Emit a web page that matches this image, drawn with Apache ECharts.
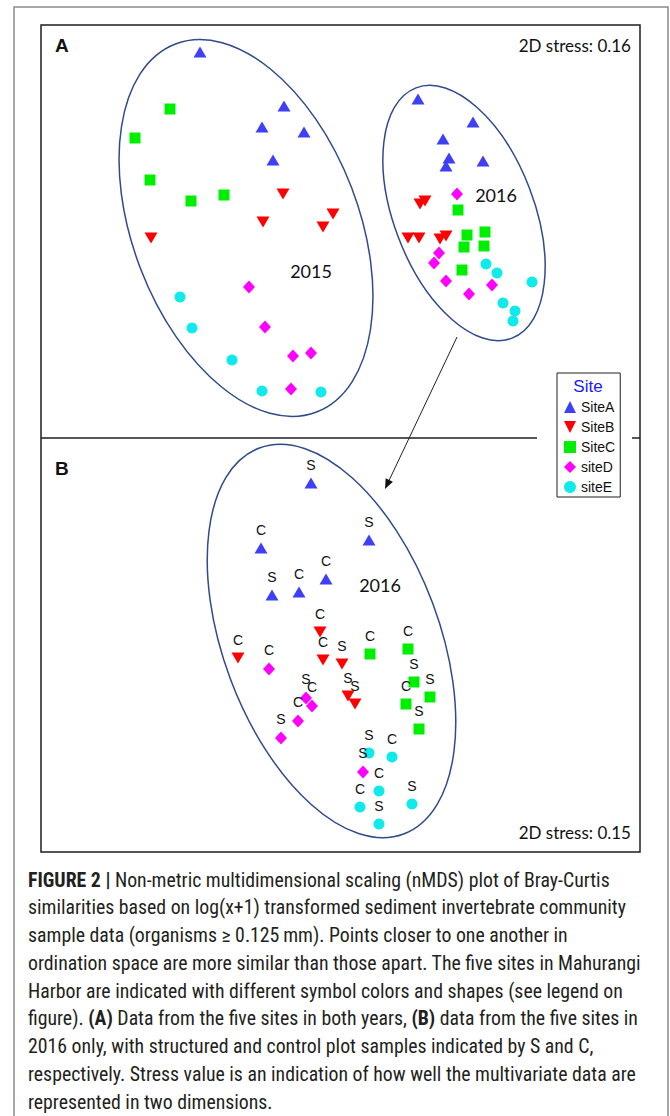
<!DOCTYPE html>
<html><head><meta charset="utf-8">
<script src="https://cdn.jsdelivr.net/npm/echarts/dist/echarts.min.js"></script>
<style>html,body{margin:0;padding:0;background:#fff}#c{width:670px;height:1116px}</style>
</head><body><div id="c"></div>
<script>
// ---------- DATA (nMDS coordinates) ----------
const siteNames = ['SiteA', 'SiteB', 'SiteC', 'siteD', 'siteE'];

// Panel A, 2015 samples
const a15SiteA = [[-1.40,1.795],[-0.56,1.255],[-0.78,1.045],[-0.36,0.995],[-0.67,0.715]];
const a15SiteB = [[-0.57,0.375],[-0.07,0.175],[-0.77,0.095],[-0.17,0.045],[-1.89,-0.065]];
const a15SiteC = [[-1.70,1.225],[-2.05,0.935],[-1.90,0.515],[-1.49,0.305],[-1.16,0.365]];
const a15SiteD = [[-0.91,-0.555],[-0.75,-0.955],[-0.47,-1.245],[-0.29,-1.215],[-0.49,-1.575]];
const a15SiteE = [[-1.60,-0.655],[-1.48,-0.965],[-1.08,-1.285],[-0.78,-1.595],[-0.19,-1.605]];

// Panel A, 2016 samples
const a16SiteA = [[0.78,1.325],[1.33,1.095],[1.03,0.925],[1.09,0.735],[1.06,0.655],[1.43,0.705]];
const a16SiteB = [[0.80,0.275],[0.85,0.305],[0.68,-0.065],[0.79,-0.065],[1.00,-0.075],[1.06,-0.045]];
const a16SiteC = [[1.18,0.215],[1.27,-0.035],[1.45,-0.005],[1.24,-0.155],[1.44,-0.145],[1.22,-0.385]];
const a16SiteD = [[1.17,0.375],[0.99,-0.215],[0.94,-0.315],[1.06,-0.495],[1.52,-0.535],[1.29,-0.625]];
const a16SiteE = [[1.46,-0.325],[1.57,-0.415],[1.92,-0.505],[1.63,-0.715],[1.75,-0.795],[1.73,-0.895]];

// Panel B, 2016 only, with S (structured) / C (control) labels
const bSiteA = [[-0.29,1.62],[-0.79,0.97],[0.29,1.05],[-0.14,0.66],[-0.68,0.50],[-0.41,0.53]];
const bSiteALabels = ['S','C','S','C','S','C'];
const bSiteB = [[-1.02,-0.13],[-0.20,0.13],[-0.17,-0.15],[0.02,-0.19],[0.08,-0.51],[0.15,-0.59]];
const bSiteBLabels = ['C','C','C','S','S','S'];
const bSiteC = [[0.30,-0.09],[0.68,-0.04],[0.74,-0.37],[0.90,-0.52],[0.66,-0.59],[0.79,-0.84]];
const bSiteCLabels = ['C','C','S','S','C','S'];
const bSiteD = [[-0.71,-0.24],[-0.34,-0.53],[-0.28,-0.61],[-0.42,-0.76],[-0.59,-0.93],[0.23,-1.27]];
const bSiteDLabels = ['C','S','C','C','S','S'];
const bSiteE = [[0.29,-1.08],[0.52,-1.12],[0.39,-1.46],[0.20,-1.62],[0.72,-1.59],[0.39,-1.79]];
const bSiteELabels = ['S','C','C','C','S','S'];

// Group ellipses: [centerX, centerY, radiusX, radiusY, rotationDeg]
const ellipseA2015 = [-0.94, 0.035, 1.13, 1.97, 21];
const ellipseA2016 = [1.24, 0.185, 0.70, 1.34, 21];
const ellipseB2016 = [-0.085, 0.04, 1.08, 2.06, 20.5];

const stressA = '2D stress: 0.16';
const stressB = '2D stress: 0.15';

const captionLines = [
  '{b|FIGURE 2 |} Non-metric multidimensional scaling (nMDS) plot of Bray-Curtis',
  'similarities based on log(x+1) transformed sediment invertebrate community',
  'sample data (organisms \u2265 0.125\u2009mm). Points closer to one another in',
  'ordination space are more similar than those apart. The five sites in Mahurangi',
  'Harbor are indicated with different symbol colors and shapes (see legend on',
  'figure). {b|(A)} Data from the five sites in both years, {b|(B)} data from the five sites in',
  '2016 only, with structured and control plot samples indicated by S and C,',
  'respectively. Stress value is an indication of how well the multivariate data are',
  'represented in two dimensions.'
];

// ---------- STYLE ----------
const siteColors = ['#3f3ff5', '#ff0000', '#00ee00', '#ff00ff', '#11eaea'];
const downTri = 'path://M0,0L10,0L5,10Z';
const siteSymbols = ['triangle', downTri, 'rect', 'diamond', 'circle'];
const siteSizes = [[13,11],[13,11],[11,11],[12,13],[11,11]];
const ellipseColor = '#2f4b8c';
const arial = '"Liberation Sans", Arial, sans-serif';
const calibriLike = 'Lato, "Open Sans", sans-serif';
const captionFont = '"Liberation Sans Narrow", "Roboto Condensed", "DejaVu Sans Condensed", sans-serif';

const chart = echarts.init(document.getElementById('c'), null, {renderer: 'svg'});

const panelA = [
  a15SiteA.concat(a16SiteA), a15SiteB.concat(a16SiteB), a15SiteC.concat(a16SiteC),
  a15SiteD.concat(a16SiteD), a15SiteE.concat(a16SiteE)
];
const panelB = [bSiteA, bSiteB, bSiteC, bSiteD, bSiteE];
const panelBLabels = [bSiteALabels, bSiteBLabels, bSiteCLabels, bSiteDLabels, bSiteELabels];

function ellipseSeries(data, xi, yi) {
  return {
    type: 'custom', xAxisIndex: xi, yAxisIndex: yi, silent: true, clip: false,
    data: data, z: 1,
    renderItem: function (params, api) {
      const c = api.coord([api.value(0), api.value(1)]);
      const s = api.size([api.value(2), api.value(3)]);
      return {
        type: 'ellipse', x: c[0], y: c[1], rotation: api.value(4) * Math.PI / 180,
        shape: {cx: 0, cy: 0, rx: s[0], ry: s[1]},
        style: {fill: 'none', stroke: ellipseColor, lineWidth: 1.5}
      };
    }
  };
}

const series = [
  ellipseSeries([ellipseA2015, ellipseA2016], 0, 0),
  ellipseSeries([ellipseB2016], 1, 1)
];
siteNames.forEach(function (name, i) {
  series.push({
    name: name, type: 'scatter', xAxisIndex: 0, yAxisIndex: 0, z: 3,
    symbol: siteSymbols[i], symbolSize: siteSizes[i],
    itemStyle: {color: siteColors[i], opacity: 1},
    emphasis: {disabled: true}, silent: true,
    data: panelA[i]
  });
});
siteNames.forEach(function (name, i) {
  series.push({
    name: name, type: 'scatter', xAxisIndex: 1, yAxisIndex: 1, z: 3,
    symbol: siteSymbols[i], symbolSize: siteSizes[i],
    itemStyle: {color: siteColors[i], opacity: 1},
    emphasis: {disabled: true}, silent: true,
    labelLayout: {hideOverlap: false},
    label: {show: true, position: 'top', distance: 6, formatter: '{b}',
            fontFamily: arial, fontSize: 14, color: '#111'},
    data: panelB[i].map(function (p, j) { return {value: p, name: panelBLabels[i][j]}; })
  });
});

// arrow geometry (decoration between panels)
const arrowFrom = [457, 337], arrowTip = [385, 489];
const dx = arrowTip[0] - arrowFrom[0], dy = arrowTip[1] - arrowFrom[1];
const len = Math.sqrt(dx * dx + dy * dy), ux = dx / len, uy = dy / len;
const headL = 10, headW = 4;
const base = [arrowTip[0] - ux * headL, arrowTip[1] - uy * headL];

const graphics = [
  {type: 'rect', shape: {x: 14, y: 7, width: 654, height: 1140}, style: {fill: 'none', stroke: '#8c8c8c', lineWidth: 1.5}, z: 0},
  {type: 'rect', shape: {x: 41, y: 25, width: 599, height: 827}, style: {fill: 'none', stroke: '#1e1e1e', lineWidth: 1.5}, z: 5},
  {type: 'line', shape: {x1: 41, y1: 438, x2: 537, y2: 438}, style: {stroke: '#1e1e1e', lineWidth: 1.5}, z: 5},
  {type: 'line', shape: {x1: 632, y1: 438, x2: 640, y2: 438}, style: {stroke: '#1e1e1e', lineWidth: 1.5}, z: 5},
  {type: 'line', shape: {x1: arrowFrom[0], y1: arrowFrom[1], x2: base[0], y2: base[1]}, style: {stroke: '#222', lineWidth: 1}, z: 5},
  {type: 'polygon', shape: {points: [arrowTip, [base[0] + uy * headW, base[1] - ux * headW], [base[0] - uy * headW, base[1] + ux * headW]]}, style: {fill: '#111'}, z: 5},
  {type: 'text', x: 55, y: 45, style: {text: 'A', font: 'bold 19px ' + arial, fill: '#111', verticalAlign: 'middle'}, z: 5},
  {type: 'text', x: 55, y: 468, style: {text: 'B', font: 'bold 19px ' + arial, fill: '#111', verticalAlign: 'middle'}, z: 5},
  {type: 'text', x: 631, y: 45, style: {text: stressA, font: '17px ' + calibriLike, fill: '#111', align: 'right', verticalAlign: 'middle'}, z: 5},
  {type: 'text', x: 631, y: 832, style: {text: stressB, font: '17px ' + calibriLike, fill: '#111', align: 'right', verticalAlign: 'middle'}, z: 5},
  {type: 'text', x: 311, y: 271, style: {text: '2015', font: '18px ' + calibriLike, fill: '#111', align: 'center', verticalAlign: 'middle'}, z: 5},
  {type: 'text', x: 496, y: 195, style: {text: '2016', font: '18px ' + calibriLike, fill: '#111', align: 'center', verticalAlign: 'middle'}, z: 5},
  {type: 'text', x: 380, y: 585, style: {text: '2016', font: '18px ' + calibriLike, fill: '#111', align: 'center', verticalAlign: 'middle'}, z: 5},
  {type: 'text', x: 588, y: 386, style: {text: 'Site', font: '17px ' + arial, fill: '#1a1aff', align: 'center', verticalAlign: 'middle'}, z: 50}
];
captionLines.forEach(function (t, i) {
  graphics.push({
    type: 'text', x: 28, y: 880 + i * 27.75, z: 5,
    style: {
      text: t, fontFamily: captionFont, fontSize: 19.8, fill: '#231f20', verticalAlign: 'middle',
      rich: {b: {fontFamily: captionFont, fontSize: 19.8, fontWeight: 'bold', fill: '#231f20'}}
    }
  });
});

chart.setOption({
  animation: false,
  backgroundColor: '#fff',
  grid: [
    {left: 41, top: 25, width: 599, height: 413, show: false, outerBoundsMode: 'none', containLabel: false},
    {left: 41, top: 438, width: 599, height: 414, show: false, outerBoundsMode: 'none', containLabel: false}
  ],
  xAxis: [
    {type: 'value', gridIndex: 0, min: -2.99, max: 3.0, show: false},
    {type: 'value', gridIndex: 1, min: -2.99, max: 3.0, show: false}
  ],
  yAxis: [
    {type: 'value', gridIndex: 0, min: -2.065, max: 2.065, show: false},
    {type: 'value', gridIndex: 1, min: -2.07, max: 2.07, show: false}
  ],
  legend: {
    orient: 'vertical', left: 557, top: 373, selectedMode: false,
    padding: [27, 5, 3, 7], itemGap: 6, itemWidth: 12, itemHeight: 12,
    backgroundColor: '#fff', borderColor: '#1e1e1e', borderWidth: 1, borderRadius: 0,
    textStyle: {fontFamily: arial, fontSize: 14, color: '#111'},
    data: siteNames.map(function (n, i) { return {name: n, icon: siteSymbols[i]}; }),
    z: 20
  },
  graphic: graphics,
  series: series
});
</script></body></html>
